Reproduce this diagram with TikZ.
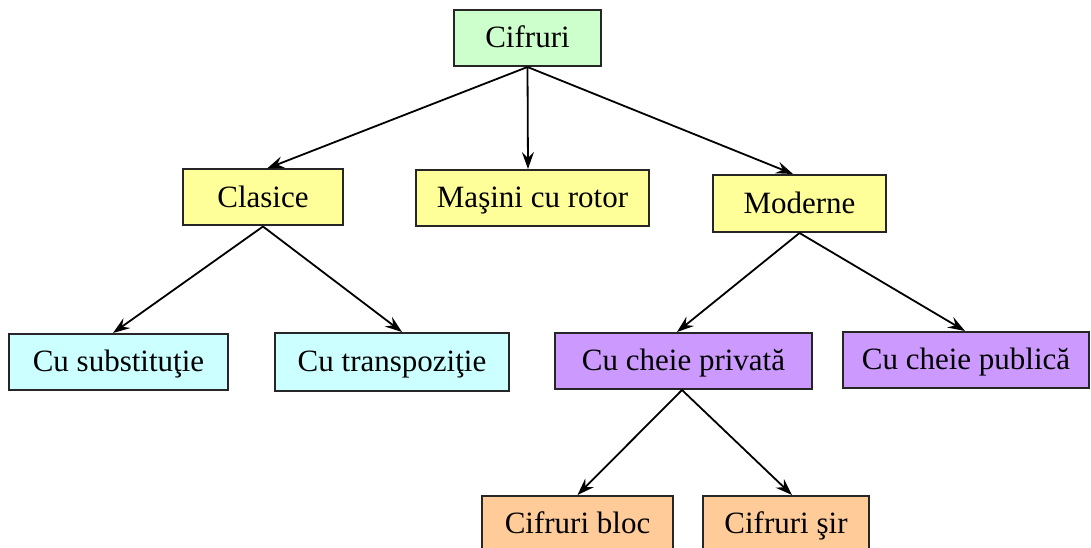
\documentclass[tikz,border=0pt]{standalone}
\usepackage{fontspec}
\setmainfont{Liberation Serif}
\usetikzlibrary{arrows.meta}
\definecolor{cgreen}{HTML}{CCFFCC}
\definecolor{cyellow}{HTML}{FFFF99}
\definecolor{ccyan}{HTML}{CCFFFF}
\definecolor{cpurple}{HTML}{CC99FF}
\definecolor{corange}{HTML}{FFCC99}
\begin{document}
\begin{tikzpicture}[x=1bp,y=-1bp,
  box/.style={draw=black!85,line width=2bp,inner sep=0pt,minimum height=56bp,
    text depth=2bp,font=\fontsize{31bp}{37bp}\selectfont},
  conn/.style={line width=1.8bp,-{Stealth[length=17bp,width=12bp,inset=6bp]}}]
\useasboundingbox (0,0) rectangle (1091,548);
\begin{scope}
\clip (0,0) rectangle (1091,548);
\node[box,fill=cgreen,minimum width=147bp] (cif) at (527.5,38) {Cifruri};
\node[box,fill=cyellow,minimum width=160bp] (cla) at (263,197.5) {Clasice};
\node[box,fill=cyellow,minimum width=233bp] (mas) at (532.5,198) {Maşini cu rotor};
\node[box,fill=cyellow,minimum width=173bp,minimum height=57bp] (mod) at (799.5,203.5) {Moderne};
\node[box,fill=ccyan,minimum width=219bp] (sub) at (118.5,362) {Cu substituţie};
\node[box,fill=ccyan,minimum width=234bp,minimum height=58bp] (tra) at (392,362) {Cu transpoziţie};
\node[box,fill=cpurple,minimum width=257bp] (pri) at (683.5,361) {Cu cheie privată\hspace{16bp}};
\node[box,fill=cpurple,minimum width=246bp] (pub) at (966,360) {Cu cheie publică};
\node[box,fill=corange,minimum width=191bp] (blo) at (577.5,524) {Cifruri bloc};
\node[box,fill=corange,minimum width=166bp] (sir) at (786,524) {Cifruri şir};

\draw[conn] (cif.south) -- ([xshift=4bp]cla.north);
\draw[conn] (cif.south) -- ([xshift=-4.5bp]mas.north);
\draw[conn] (cif.south) -- ([xshift=-6.5bp]mod.north);
\draw[conn] (cla.south) -- ([xshift=-5.5bp]sub.north);
\draw[conn] (cla.south) -- ([xshift=10bp]tra.north);
\draw[conn] (mod.south) -- ([xshift=-6.5bp]pri.north);
\draw[conn] (mod.south) -- ([xshift=-1bp]pub.north);
\draw[conn] ([xshift=-1.5bp]pri.south) -- (blo.north);
\draw[conn] ([xshift=-1.5bp]pri.south) -- ([xshift=6bp]sir.north);
\end{scope}
\end{tikzpicture}
\end{document}
